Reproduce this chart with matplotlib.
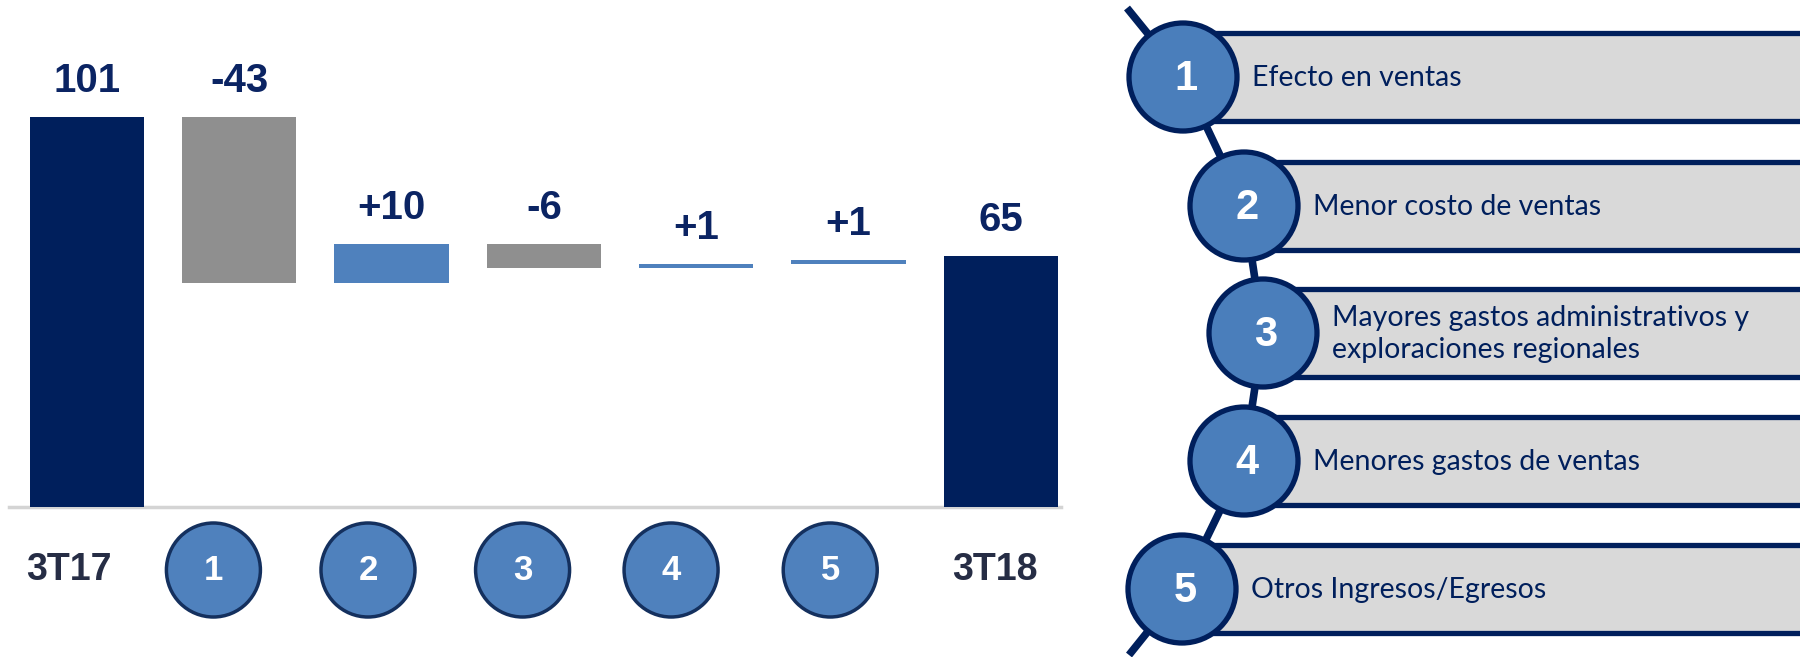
import matplotlib
matplotlib.use("Agg")
import matplotlib.pyplot as plt
from matplotlib.patches import Ellipse, Rectangle, Circle
import numpy as np

# ---------------- data ----------------
start_label = "3T17"
end_label = "3T18"
start_value = 101
deltas = [-43, 10, -6, 1, 1]
end_value = 65
step_numbers = ["1", "2", "3", "4", "5"]
descriptions = [
    "Efecto en ventas",
    "Menor costo de ventas",
    "Mayores gastos administrativos y\nexploraciones regionales",
    "Menores gastos de ventas",
    "Otros Ingresos/Egresos",
]

# ---------------- style ----------------
NAVY = "#001f5c"
LABEL_NAVY = "#0b2463"
GRAY = "#8f8f8f"
BLUE = "#4f81bd"
CIRCLE_FILL = "#4a7ebb"
BOX_GRAY = "#d9d9d9"
W, H, DPI = 1800, 657, 100

fig = plt.figure(figsize=(W / DPI, H / DPI), dpi=DPI)
fig.patch.set_facecolor("white")

# ---------------- waterfall axes ----------------
px_per_unit_x = 152.3
x0_px = 87.0
xlim = (-0.55, 6.5)
left_px = x0_px + xlim[0] * px_per_unit_x
right_px = x0_px + xlim[1] * px_per_unit_x
base_px_from_bottom = 150.0
px_per_unit_y = 3.861
ylim = (-base_px_from_bottom / px_per_unit_y, (H - base_px_from_bottom) / px_per_unit_y)

ax = fig.add_axes([left_px / W, 0, (right_px - left_px) / W, 1])
ax.set_xlim(*xlim)
ax.set_ylim(*ylim)
ax.axis("off")

n = len(deltas) + 2
xs = np.arange(n)
bottoms, heights, colors, tops, texts = [], [], [], [], []
bottoms.append(0); heights.append(start_value); colors.append(NAVY)
tops.append(start_value); texts.append(str(start_value))
cum = start_value
for d in deltas:
    new = cum + d
    lo, hi = min(cum, new), max(cum, new)
    bottoms.append(lo); heights.append(hi - lo)
    colors.append(BLUE if d > 0 else GRAY)
    tops.append(hi); texts.append(f"{d:+d}")
    cum = new
bottoms.append(0); heights.append(end_value); colors.append(NAVY)
tops.append(end_value); texts.append(str(end_value))

ax.bar(xs, heights, bottom=bottoms, width=0.75, color=colors, edgecolor="none", zorder=2)

for x, t, s in zip(xs, tops, texts):
    ax.annotate(s, (x, t), xytext=(0, 26), textcoords="offset points",
                ha="center", va="center", fontsize=29, fontweight="bold",
                color=LABEL_NAVY, family=["Liberation Sans", "DejaVu Sans"])

# baseline
ax.axhline(0, xmin=0.005, xmax=0.985, color="#d4d4d4", lw=2.5, zorder=1)

# bottom category labels
cat_labels = [start_label] + step_numbers + [end_label]
label_offsets = [-0.12, -0.17, -0.155, -0.14, -0.165, -0.12, -0.04]
label_y_px = 570.0
label_y = (H - label_y_px - base_px_from_bottom) / px_per_unit_y
diam_px = 94.0
for i, (lab, off) in enumerate(zip(cat_labels, label_offsets)):
    x = xs[i] + off
    if lab in step_numbers:
        e = Ellipse((x, label_y), width=diam_px / px_per_unit_x,
                    height=diam_px / px_per_unit_y, facecolor=BLUE,
                    edgecolor="#14305e", lw=2.5, zorder=3)
        ax.add_patch(e)
        ax.text(x, label_y, lab, ha="center", va="center", fontsize=25,
                fontweight="bold", color="white", zorder=4,
                family=["Liberation Sans", "DejaVu Sans"])
    else:
        ax.text(x, label_y, lab, ha="center", va="center", fontsize=27,
                fontweight="bold", color="#262d45",
                family=["Liberation Sans", "DejaVu Sans"])

# ---------------- right legend panel (pixel coordinates) ----------------
ax2 = fig.add_axes([0, 0, 1, 1])
ax2.set_xlim(0, W)
ax2.set_ylim(H, 0)
ax2.axis("off")

centers = [(1183, 77), (1244, 206), (1263, 333), (1244, 461), (1182, 589)]
path_x = [1127] + [c[0] for c in centers] + [1129]
path_y = [8] + [c[1] for c in centers] + [655]
ax2.plot(path_x, path_y, color=NAVY, lw=5.5, solid_capstyle="butt", zorder=1)

box_h = 88
r = 54
for (cx, cy), num, desc in zip(centers, step_numbers, descriptions):
    top = cy - box_h / 2
    bot = cy + box_h / 2
    ax2.add_patch(Rectangle((cx, top), W - cx + 5, box_h, facecolor=BOX_GRAY,
                            edgecolor="none", zorder=2))
    ax2.plot([cx, W + 5], [top, top], color=NAVY, lw=3.8, zorder=3)
    ax2.plot([cx, W + 5], [bot, bot], color=NAVY, lw=3.8, zorder=3)
    ax2.add_patch(Circle((cx, cy), r, facecolor=CIRCLE_FILL, edgecolor=NAVY,
                         lw=3.8, zorder=4))
    ax2.text(cx + 3, cy + 2, num, ha="center", va="center", fontsize=30,
             fontweight="bold", color="white", zorder=5,
             family=["Liberation Sans", "DejaVu Sans"])
    ax2.text(cx + 69, cy + 1, desc, ha="left", va="center", fontsize=20.5,
             color=NAVY, zorder=5, linespacing=1.25,
             family=["Lato", "DejaVu Sans"])

fig.savefig("out.png", dpi=DPI, facecolor="white")
